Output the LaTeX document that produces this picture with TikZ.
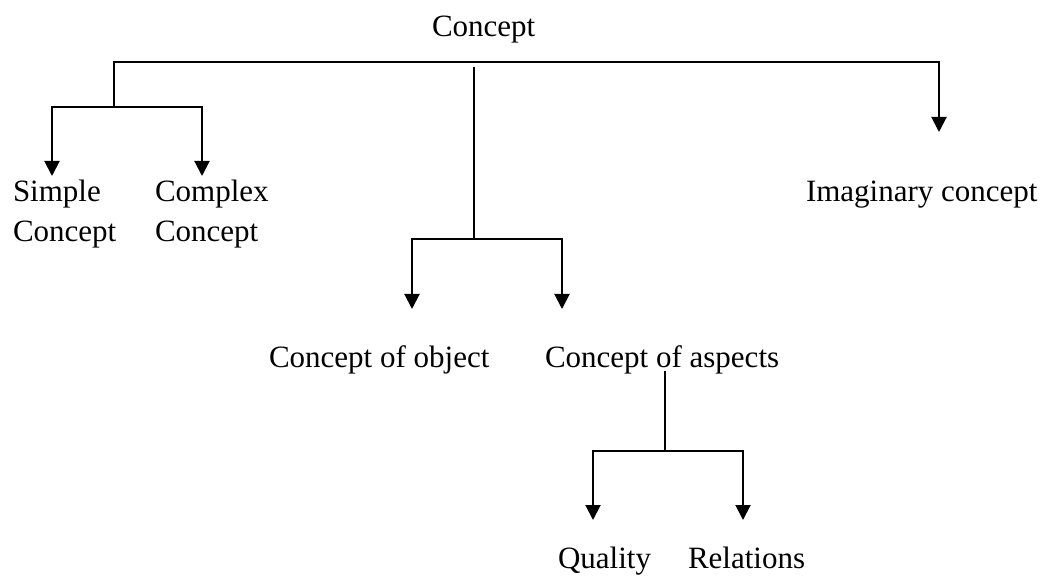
\documentclass[tikz,border=0pt]{standalone}
\usepackage{fontspec}
\setmainfont{Liberation Serif}
\usetikzlibrary{arrows.meta}
\begin{document}
\begin{tikzpicture}[x=1pt,y=-1pt,
  lbl/.style={anchor=base west,inner sep=0pt,outer sep=0pt,align=left,
    font=\fontsize{31}{40}\selectfont},
  wire/.style={line width=2pt,line cap=rect},
  arr/.style={line width=2pt,-{Triangle[length=15pt,width=15pt]}}]
\useasboundingbox (0,0) rectangle (1044,577);
% texts
\node[lbl] (root) at (432,37) {Concept};
\node[lbl] (simple) at (13,242) {Simple\\Concept};
\node[lbl] (complex) at (155,242) {Complex\\Concept};
\node[lbl] (imag) at (806,202) {Imaginary concept};
\node[lbl] (obj) at (269,367) {Concept of object};
\node[lbl] (asp) at (545,367) {Concept of aspects};
\node[lbl] (qual) at (558,568) {Quality};
\node[lbl] (rel) at (688,568) {Relations};
% junction coordinates
\coordinate (hL) at (114,62);
\coordinate (hR) at (939,62);
\coordinate (lJ) at (114,107);
\coordinate (lA) at (52,107);
\coordinate (lB) at (202,107);
\coordinate (tSimple) at (52,176);
\coordinate (tComplex) at (202,176);
\coordinate (tImag) at (939,132);
\coordinate (mTop) at (474,68);
\coordinate (mJ) at (474,239);
\coordinate (mA) at (412,239);
\coordinate (mB) at (562,239);
\coordinate (tObj) at (412,309);
\coordinate (tAsp) at (562,309);
\coordinate (aTop) at (665,372);
\coordinate (aJ) at (665,451);
\coordinate (aA) at (593,451);
\coordinate (aB) at (743,451);
\coordinate (tQual) at (593,520);
\coordinate (tRel) at (743,520);
% lines
\draw[wire] (hL) -- (hR);
\draw[wire] (hL) -- (lJ);
\draw[wire] (lA) -- (lB);
\draw[arr] (lA) -- (tSimple);
\draw[arr] (lB) -- (tComplex);
\draw[arr] (hR) -- (tImag);
\draw[wire] (mTop) -- (mJ);
\draw[wire] (mA) -- (mB);
\draw[arr] (mA) -- (tObj);
\draw[arr] (mB) -- (tAsp);
\draw[wire] (aTop) -- (aJ);
\draw[wire] (aA) -- (aB);
\draw[arr] (aA) -- (tQual);
\draw[arr] (aB) -- (tRel);
\end{tikzpicture}
\end{document}
